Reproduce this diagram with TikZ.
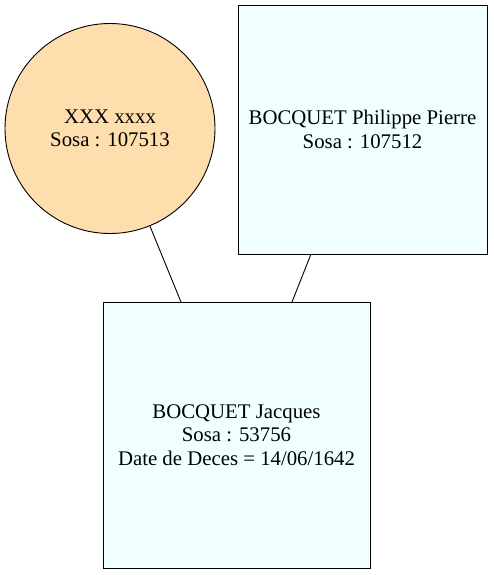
\documentclass[tikz,border=0pt]{standalone}
\usepackage{fontspec}
\setmainfont{Liberation Serif}
\begin{document}
\begin{tikzpicture}[x=1pt,y=-1pt,
  person/.style={draw=black, line width=0.9pt, fill=cyan!6, font=\fontsize{20.8}{23.5}\selectfont, align=center, inner sep=0pt},
  link/.style={draw=black, line width=0.9pt}]
\useasboundingbox (0,0) rectangle (493,575);
\node[person, circle, fill={rgb,255:red,255;green,222;blue,173}, minimum size=210pt] (m) at (110,128.5) {XXX xxxx\\Sosa : 107513};
\node[person, rectangle, fill={rgb,255:red,240;green,255;blue,255}, minimum width=249pt, minimum height=249pt] (f) at (362.5,129.5) {BOCQUET Philippe Pierre\\Sosa : 107512};
\node[person, rectangle, fill={rgb,255:red,240;green,255;blue,255}, minimum width=267pt, minimum height=266pt] (c) at (236.5,435) {BOCQUET Jacques\\Sosa : 53756\\Date de Deces = 14/06/1642};
\draw[link] (m) -- (181,302);
\draw[link] (311,254) -- (292,302);
\end{tikzpicture}
\end{document}
